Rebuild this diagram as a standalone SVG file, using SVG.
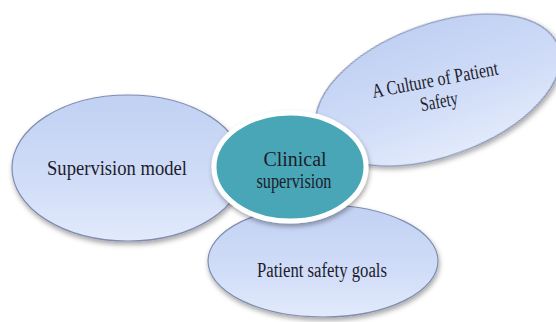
<svg xmlns="http://www.w3.org/2000/svg" width="556" height="322" viewBox="0 0 556 322">
<defs>
<linearGradient id="blue" x1="0" y1="0" x2="0" y2="1">
<stop offset="0" stop-color="#c1d1f3"/>
<stop offset="0.6" stop-color="#d1ddf8"/>
<stop offset="1" stop-color="#e2eafb"/>
</linearGradient>
<filter id="sh" x="-20%" y="-20%" width="140%" height="150%">
<feDropShadow dx="1" dy="3" stdDeviation="2.5" flood-color="#000" flood-opacity="0.35"/>
</filter>
<style>
.oval{fill:url(#blue);stroke:#7f8db0;stroke-width:1.2;filter:url(#sh)}
.hub{fill:#49a6b6;stroke:#ffffff;stroke-width:5;filter:url(#sh)}
.t{font-family:"Liberation Serif","Times New Roman",serif;fill:#1c1c2c;text-anchor:middle;font-size:20px}
</style>
</defs>
<rect width="556" height="322" fill="#ffffff"/>
<g id="connectors"></g>
<g id="supervision-model">
<ellipse class="oval" cx="128" cy="168" rx="116" ry="73"/>
<text class="t" x="117" y="175" textLength="140" lengthAdjust="spacingAndGlyphs">Supervision model</text>
</g>
<g id="culture">
<ellipse class="oval" cx="438" cy="90" rx="128" ry="66" transform="rotate(-20 438 90)"/>
<g transform="rotate(-10.6 438 96)">
<text class="t" x="438" y="86" textLength="128" lengthAdjust="spacingAndGlyphs">A Culture of Patient</text>
<text class="t" x="438" y="108" textLength="38" lengthAdjust="spacingAndGlyphs">Safety</text>
</g>
</g>
<g id="goals">
<ellipse class="oval" cx="323" cy="261" rx="115" ry="56"/>
<text class="t" x="322" y="277" textLength="130" lengthAdjust="spacingAndGlyphs">Patient safety goals</text>
</g>
<g id="clinical-supervision">
<ellipse class="hub" cx="290" cy="167" rx="76" ry="54"/>
<text class="t" x="295" y="166" textLength="63" lengthAdjust="spacingAndGlyphs">Clinical</text>
<text class="t" x="294" y="188" textLength="75" lengthAdjust="spacingAndGlyphs">supervision</text>
</g>
</svg>
